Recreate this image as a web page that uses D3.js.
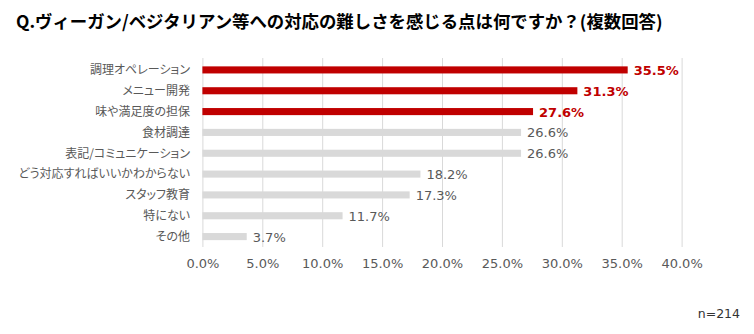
<!DOCTYPE html>
<html><head><meta charset="utf-8">
<script src="https://cdn.jsdelivr.net/npm/d3@7"></script>
<style>
body{margin:0;background:#fff;}
svg{display:block;}
</style></head>
<body>
<svg id="chart" width="754" height="334"></svg>
<script>
const categories = ["調理オペレーション","メニュー開発","味や満足度の担保","食材調達","表記/コミュニケーション","どう対応すればいいかわからない","スタッフ教育","特にない","その他"];
const values = [35.5,31.3,27.6,26.6,26.6,18.2,17.3,11.7,3.7];
const highlighted = [true,true,true,false,false,false,false,false,false];
const ticks = [0,5,10,15,20,25,30,35,40];
const title = "Q.ヴィーガン/ベジタリアン等への対応の難しさを感じる点は何ですか？(複数回答)";
const note = "n=214";

const svg = d3.select("#chart");
const x = d3.scaleLinear().domain([0,40]).range([202.4,681.6]);
const y = d3.scaleBand().domain(categories).range([59.5,247]).paddingInner(0.66).paddingOuter(0.33);

const jp = "'Meiryo UI','Noto Sans CJK JP',sans-serif";
const num = "'DejaVu Sans',Verdana,sans-serif";

svg.append("text").attr("x",16).attr("y",28)
  .attr("font-family",jp).attr("font-weight","bold").attr("font-size",17.4)
  .attr("fill","#000")
  .text(title);

// gridlines
svg.append("g").selectAll("line").data(ticks).join("line")
  .attr("x1",d=>x(d)+0.5).attr("x2",d=>x(d)+0.5)
  .attr("y1",58).attr("y2",247)
  .attr("stroke","#d9d9d9").attr("stroke-width",1);

// axis labels
const ax = d3.axisBottom(x).tickValues(ticks).tickFormat(d=>d.toFixed(1)+"%").tickSize(0).tickPadding(0);
const axg = svg.append("g").attr("transform","translate(0,259)").call(ax);
axg.select(".domain").remove();
axg.selectAll("text").attr("font-family",num).attr("font-size",13).attr("fill","#595959");

// bars
svg.append("g").selectAll("rect").data(categories).join("rect")
  .attr("x",x(0)).attr("y",d=>y(d))
  .attr("width",(d,i)=>x(values[i])-x(0)).attr("height",y.bandwidth())
  .attr("fill",(d,i)=>highlighted[i]?"#c00000":"#d9d9d9");

// category labels
svg.append("g").selectAll("text").data(categories).join("text")
  .attr("x",190).attr("y",d=>y(d)+y.bandwidth()/2)
  .attr("dy","0.36em").attr("text-anchor","end")
  .attr("font-family",jp).attr("font-size",12).attr("fill","#595959")
  .style("font-feature-settings","'palt'")
  .text(d=>d);

// value labels
svg.append("g").selectAll("text").data(categories).join("text")
  .attr("x",(d,i)=>x(values[i])+6).attr("y",d=>y(d)+y.bandwidth()/2)
  .attr("dy","0.38em")
  .attr("font-family",num).attr("font-size",13)
  .attr("font-weight",(d,i)=>highlighted[i]?"bold":"normal")
  .attr("fill",(d,i)=>highlighted[i]?"#c00000":"#595959")
  .text((d,i)=>values[i].toFixed(1)+"%");

svg.append("text").attr("x",740).attr("y",318).attr("text-anchor","end")
  .attr("font-family",num).attr("font-size",12.5).attr("fill","#333")
  .text(note);
</script>
</body></html>
